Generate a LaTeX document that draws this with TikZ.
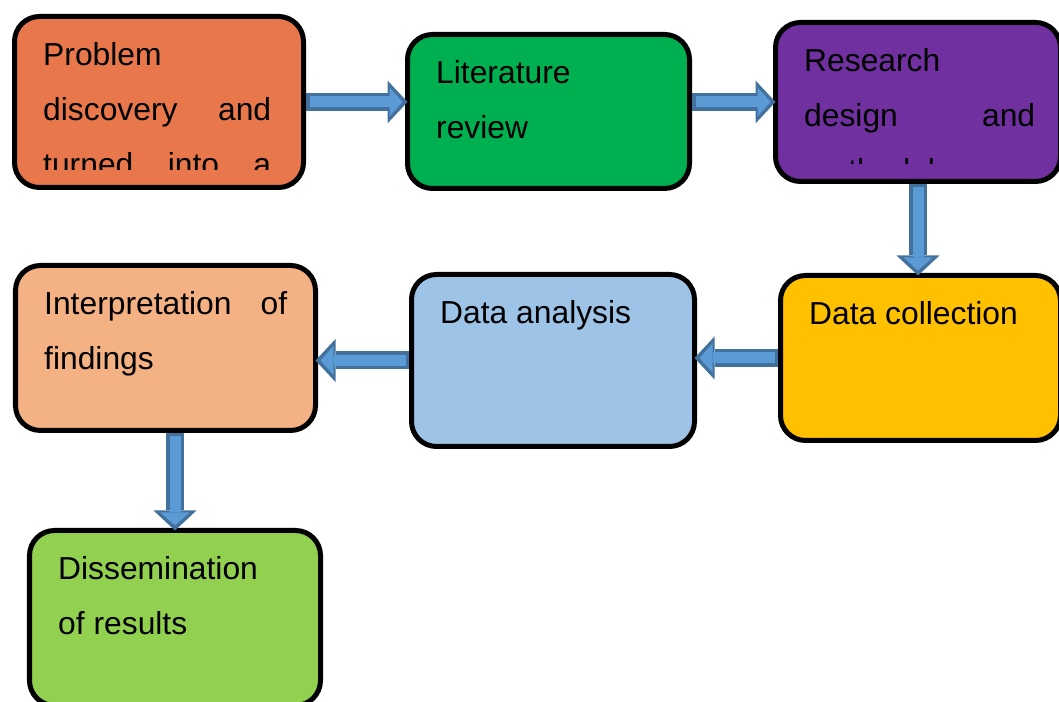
\documentclass[tikz,border=0pt]{standalone}
\usepackage{fontspec}
\newfontfamily\arialfont{Liberation Sans}
\usetikzlibrary{calc,arrows.meta}
\definecolor{probfill}{HTML}{E8784B}
\definecolor{litfill}{HTML}{00B050}
\definecolor{resfill}{HTML}{7030A0}
\definecolor{collfill}{HTML}{FFC000}
\definecolor{anafill}{HTML}{9DC3E6}
\definecolor{interpfill}{HTML}{F4B183}
\definecolor{dissfill}{HTML}{92D050}
\definecolor{arrowfill}{HTML}{5B9BD5}
\definecolor{arrowline}{HTML}{41719C}
\hyphenpenalty=10000
\exhyphenpenalty=10000
\tolerance=10000
\def\stepfont{\arialfont\fontsize{9.05pt}{15.65pt}\selectfont\spaceskip=0.278em plus 3em\relax}
\def\boxtext(#1)[#2]#3{\begin{scope}\clip ($(#1.south west)+(0.03,0.18)$) rectangle ($(#1.north east)+(-0.03,-0.03)$);\node[steptext, text width=#2cm] (#1txt) at ($(#1.north west)+(0.28,-0.495)$) {#3};\end{scope}}

\begin{document}
\begin{tikzpicture}[
	stepbox/.style={draw=black, line width=0.05cm, rounded corners=0.25cm, anchor=north west, inner sep=0, outer sep=0},
	steptext/.style={anchor=base west, inner sep=0, align=justify, font=\stepfont},
	flowarrow/.style={draw=arrowline, line width=0.18cm, shorten <=0.025cm, -{Triangle[length=0.2cm, width=0.43cm, line width=0pt]},
		postaction={draw=arrowfill, line width=0.11cm, shorten <=0.06cm, shorten >=0.05cm, -{Triangle[length=0.13cm, width=0.29cm, line width=0pt]}}}]
			%%%%% START %%%%%
			
			\useasboundingbox (0, 0) rectangle (10.59, 7.02);
			
			\node[stepbox, fill=probfill, minimum width=2.89cm, minimum height=1.71cm] (prob) at (0.145, 6.855) {};
			\node[stepbox, fill=litfill, minimum width=2.82cm, minimum height=1.54cm] (lit) at (4.075, 6.675) {};
			\node[stepbox, fill=resfill, minimum width=2.85cm, minimum height=1.59cm] (res) at (7.755, 6.795) {};
			\node[stepbox, fill=collfill, minimum width=2.80cm, minimum height=1.65cm] (coll) at (7.805, 4.265) {};
			\node[stepbox, fill=anafill, minimum width=2.83cm, minimum height=1.72cm] (ana) at (4.115, 4.275) {};
			\node[stepbox, fill=interpfill, minimum width=3.00cm, minimum height=1.65cm] (interp) at (0.155, 4.365) {};
			\node[stepbox, fill=dissfill, minimum width=2.91cm, minimum height=1.75cm] (diss) at (0.295, 1.715) {};
			
			\boxtext(prob)[2.28]{Problem discovery and\linebreak turned into a\linebreak research problem}
			\boxtext(lit)[2.2]{Literature review}
			\boxtext(res)[2.31]{Research design and methodology}
			\boxtext(coll)[2.2]{Data collection}
			\boxtext(ana)[2.2]{Data analysis}
			\boxtext(interp)[2.43]{Interpretation of findings}
			\boxtext(diss)[2.25]{Dissemination of results}
			
			\draw[flowarrow] (prob.east) -- (prob.east -| lit.west);
			\draw[flowarrow] (lit.east |- res.west) -- (res.west);
			\draw[flowarrow] (res.south) -- (res.south |- coll.north);
			\draw[flowarrow] (coll.west) -- (coll.west -| ana.east);
			\draw[flowarrow] (ana.west) -- (ana.west -| interp.east);
			\draw[flowarrow] (diss.north |- interp.south) -- (diss.north);
			
			%%%%% END %%%%%
\end{tikzpicture}
\end{document}
